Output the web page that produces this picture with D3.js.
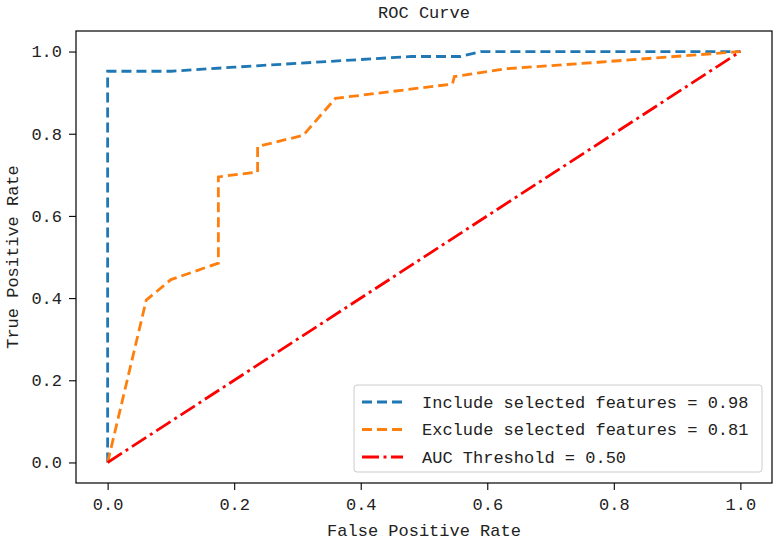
<!DOCTYPE html>
<html>
<head>
<meta charset="utf-8">
<script src="https://cdn.jsdelivr.net/npm/d3@7"></script>
<style>
  body { margin: 0; background: #fff; }
  text { font-family: "Liberation Mono", "DejaVu Sans Mono", monospace; fill: #222; }
</style>
</head>
<body>
<div id="chart"></div>
<script>
// ROC-Kurven, Werte
let fprInclude = [0, 0, 0.1, 0.2, 0.48, 0.558, 0.59, 1.0];
let tprInclude = [0, 0.952, 0.952, 0.962, 0.988, 0.988, 1.0, 1.0];

let fprExclude = [0, 0.061, 0.1, 0.175, 0.175, 0.237, 0.237, 0.309, 0.36, 0.545, 0.548, 0.629, 0.776, 1.0];
let tprExclude = [0, 0.395, 0.445, 0.485, 0.695, 0.707, 0.769, 0.796, 0.886, 0.921, 0.939, 0.958, 0.974, 1.0];

let fprThreshold = [0, 1];
let tprThreshold = [0, 1];

let legendLabels = ["Include selected features = 0.98", "Exclude selected features = 0.81", "AUC Threshold = 0.50"];
let tickValues = [0, 0.2, 0.4, 0.6, 0.8, 1.0];

let width = 779,
  height = 543,
  margin = { top: 31, right: 7, bottom: 60, left: 76 };

let svg = d3.select("#chart")
  .append("svg")
  .attr("width", width)
  .attr("height", height);

let x = d3.scaleLinear()
  .domain([-0.05, 1.05])
  .range([margin.left, width - margin.right]);

let y = d3.scaleLinear()
  .domain([-0.05, 1.05])
  .range([height - margin.bottom, margin.top]);

// Achsen
let xAxis = svg.append("g")
  .attr("transform", "translate(0," + (height - margin.bottom) + ")")
  .call(d3.axisBottom(x).tickValues(tickValues).tickFormat(d3.format(".1f")).tickSize(7).tickPadding(8));

let yAxis = svg.append("g")
  .attr("transform", "translate(" + margin.left + ",0)")
  .call(d3.axisLeft(y).tickValues(tickValues).tickFormat(d3.format(".1f")).tickSize(7).tickPadding(7));

[xAxis, yAxis].forEach(function(a) {
  a.select(".domain").remove();
  a.selectAll("line").attr("stroke", "#000").attr("stroke-width", 1.1);
  a.selectAll("text").style("font-size", "17px").attr("fill", "#222")
    .style("font-family", "'Liberation Mono', monospace");
});

// Rahmen
svg.append("rect")
  .attr("x", margin.left)
  .attr("y", margin.top)
  .attr("width", width - margin.left - margin.right)
  .attr("height", height - margin.top - margin.bottom)
  .attr("fill", "none")
  .attr("stroke", "#000")
  .attr("stroke-width", 1.2);

let series = [
  { fpr: fprInclude, tpr: tprInclude, color: "#1f77b4", dash: "10,5" },
  { fpr: fprExclude, tpr: tprExclude, color: "#ff7f0e", dash: "10,5" },
  { fpr: fprThreshold, tpr: tprThreshold, color: "#ff0000", dash: "17,4.5,3,4.5" }
];

let line = d3.line()
  .x(function(d) { return x(d[0]); })
  .y(function(d) { return y(d[1]); });

series.forEach(function(s) {
  svg.append("path")
    .datum(d3.zip(s.fpr, s.tpr))
    .attr("d", line)
    .attr("fill", "none")
    .attr("stroke", s.color)
    .attr("stroke-width", 2.8)
    .attr("stroke-dasharray", s.dash);
});

// Titel und Beschriftungen
svg.append("text")
  .attr("x", (x.range()[0] + x.range()[1]) / 2)
  .attr("y", 18)
  .attr("text-anchor", "middle")
  .style("font-size", "17px")
  .text("ROC Curve");

svg.append("text")
  .attr("x", (x.range()[0] + x.range()[1]) / 2)
  .attr("y", 536)
  .attr("text-anchor", "middle")
  .style("font-size", "17px")
  .text("False Positive Rate");

svg.append("text")
  .attr("transform", "translate(18," + (y.range()[0] + y.range()[1]) / 2 + ") rotate(-90)")
  .attr("text-anchor", "middle")
  .style("font-size", "17px")
  .text("True Positive Rate");

// Legende
let legend = svg.append("g");
legend.append("rect")
  .attr("x", 354)
  .attr("y", 385)
  .attr("width", 408)
  .attr("height", 87)
  .attr("rx", 3)
  .attr("fill", "#fff")
  .attr("fill-opacity", 0.8)
  .attr("stroke", "#ccc")
  .attr("stroke-width", 1);

legendLabels.forEach(function(label, i) {
  let ly = 402 + i * 27.5;
  legend.append("line")
    .attr("x1", 362)
    .attr("x2", 403)
    .attr("y1", ly)
    .attr("y2", ly)
    .attr("stroke", series[i].color)
    .attr("stroke-width", 2.8)
    .attr("stroke-dasharray", series[i].dash);
  legend.append("text")
    .attr("x", 422)
    .attr("y", ly)
    .attr("dy", "0.35em")
    .style("font-size", "17px")
    .text(label);
});
</script>
</body>
</html>
